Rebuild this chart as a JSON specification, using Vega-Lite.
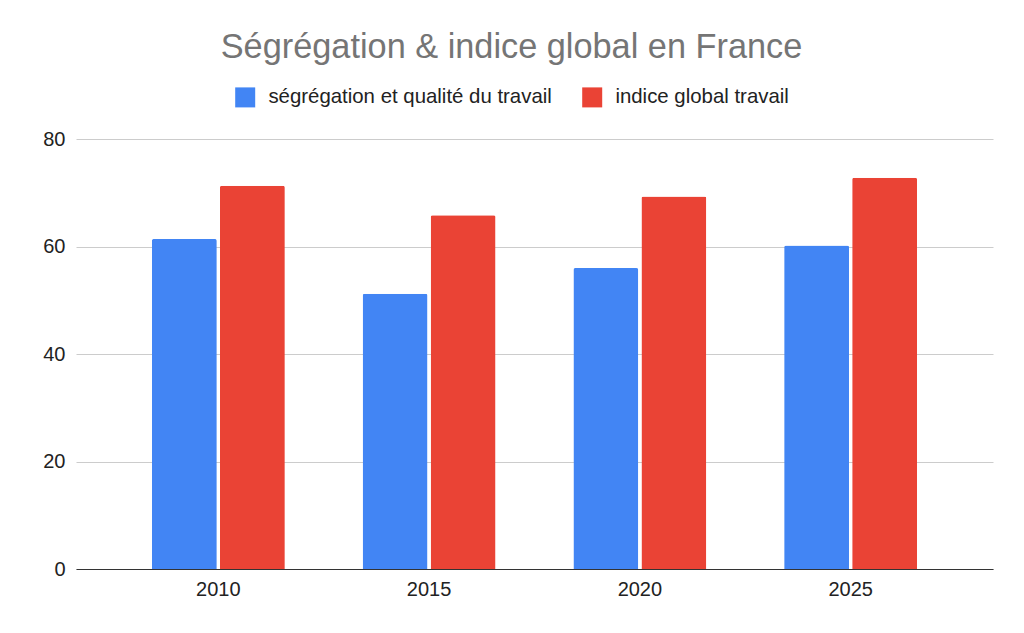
{
  "$schema": "https://vega.github.io/schema/vega-lite/v6.json",
  "width": 917,
  "height": 430,
  "autosize": {"type": "none"},
  "padding": {"left": 76, "top": 139, "right": 31, "bottom": 64},
  "background": "white",
  "title": {
    "text": "Ségrégation & indice global en France",
    "anchor": "middle",
    "frame": "group",
    "dx": -23,
    "font": "Liberation Sans",
    "fontSize": 34.3,
    "fontWeight": "normal",
    "color": "#757575",
    "offset": 22
  },
  "config": {
    "view": {"stroke": null},
    "font": "Liberation Sans"
  },
  "data": {
    "values": [
      {"year": "2010", "series": "ségrégation et qualité du travail", "value": 61.4},
      {"year": "2010", "series": "indice global travail", "value": 71.3},
      {"year": "2015", "series": "ségrégation et qualité du travail", "value": 51.2},
      {"year": "2015", "series": "indice global travail", "value": 65.8},
      {"year": "2020", "series": "ségrégation et qualité du travail", "value": 56.0},
      {"year": "2020", "series": "indice global travail", "value": 69.3},
      {"year": "2025", "series": "ségrégation et qualité du travail", "value": 60.2},
      {"year": "2025", "series": "indice global travail", "value": 72.8}
    ]
  },
  "mark": {"type": "bar", "cornerRadiusTopLeft": 2, "cornerRadiusTopRight": 2},
  "encoding": {
    "x": {
      "field": "year",
      "type": "nominal",
      "scale": {"paddingInner": 0.369, "paddingOuter": 0.36, "align": 0.5},
      "axis": {
        "title": null,
        "labelAngle": 0,
        "labelFontSize": 20,
        "labelColor": "#222222",
        "labelPadding": 10,
        "ticks": false,
        "domainColor": "#333333",
        "domainWidth": 1.2,
        "grid": false
      }
    },
    "xOffset": {
      "field": "series",
      "type": "nominal",
      "sort": ["ségrégation et qualité du travail", "indice global travail"],
      "scale": {"paddingInner": 0.045}
    },
    "y": {
      "field": "value",
      "type": "quantitative",
      "scale": {"domain": [0, 80], "nice": false},
      "axis": {
        "title": null,
        "values": [0, 20, 40, 60, 80],
        "labelFontSize": 20,
        "labelColor": "#222222",
        "labelPadding": 11,
        "ticks": false,
        "domain": false,
        "gridColor": "#cccccc",
        "gridWidth": 1
      }
    },
    "color": {
      "field": "series",
      "type": "nominal",
      "scale": {
        "domain": ["ségrégation et qualité du travail", "indice global travail"],
        "range": ["#4285F4", "#EA4335"]
      },
      "legend": {
        "title": null,
        "orient": "none",
        "legendX": 159,
        "legendY": -52,
        "direction": "horizontal",
        "symbolType": "square",
        "symbolSize": 400,
        "symbolStrokeWidth": 0,
        "labelFontSize": 20.4,
        "labelColor": "#222222",
        "labelOffset": 13,
        "labelLimit": 500,
        "columnPadding": 30
      }
    }
  }
}
